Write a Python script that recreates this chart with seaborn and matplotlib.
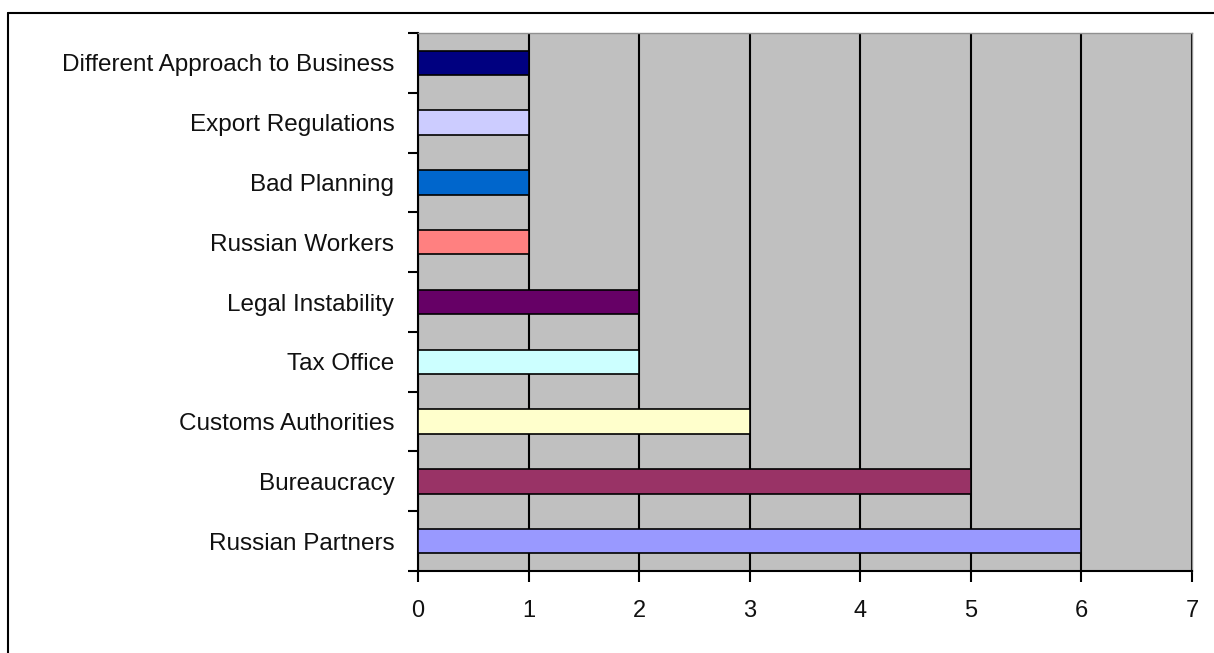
import numpy as np
import pandas as pd
import matplotlib.pyplot as plt
import seaborn as sns
from matplotlib.lines import Line2D

# Data (top to bottom as in the chart)
categories = ['Different Approach to Business', 'Export Regulations', 'Bad Planning',
              'Russian Workers', 'Legal Instability', 'Tax Office',
              'Customs Authorities', 'Bureaucracy', 'Russian Partners']
counts = [1, 1, 1, 1, 2, 2, 3, 5, 6]
bar_colors = ['#000080', '#CCCCFF', '#0066CC', '#FF8080', '#660066',
              '#CCFFFF', '#FFFFCC', '#993366', '#9999FF']
x_ticks = [0, 1, 2, 3, 4, 5, 6, 7]

df = pd.DataFrame({'Problem': categories, 'Count': counts})

sns.set_style('white')
plt.rcParams['font.family'] = ['Liberation Sans', 'DejaVu Sans']

fig = plt.figure(figsize=(12.14, 6.53), dpi=100)
ax = fig.add_axes([418 / 1214, 1 - 571 / 653, (1192 - 418) / 1214, (571 - 33) / 653])
ax.set_facecolor('#C0C0C0')

sns.barplot(data=df, x='Count', y='Problem', hue='Problem', palette=bar_colors,
            order=categories, legend=False, width=0.41, saturation=1,
            edgecolor='black', linewidth=1.2, ax=ax, zorder=3)

ax.set_xlim(0, 7)
ax.set_ylim(len(categories) - 0.5, -0.5)
ax.set_xticks(x_ticks)
ax.set_xlabel('')
ax.set_ylabel('')

# vertical gridlines
ax.xaxis.grid(True, color='black', linewidth=1.5)
ax.yaxis.grid(False)
ax.set_axisbelow(True)

# ticks
ax.set_yticks(np.arange(-0.5, len(categories), 1), minor=True)
ax.tick_params(axis='y', which='major', length=0, pad=17, labelsize=17.5,
               labelcolor='#111111')
ax.tick_params(axis='y', which='minor', length=7, width=1.5, color='black', left=True)
ax.tick_params(axis='x', which='major', length=8, width=1.5, color='black',
               bottom=True, pad=13, labelsize=17, labelcolor='#111111')

for side in ['left', 'bottom']:
    ax.spines[side].set_color('black')
    ax.spines[side].set_linewidth(1.5)
for side in ['top', 'right']:
    ax.spines[side].set_color('#909090')
    ax.spines[side].set_linewidth(1)

# outer frame (only top and left edges visible)
fx = 8 / 1214
fy = 1 - 13 / 653
fig.add_artist(Line2D([fx, 1], [fy, fy], color='black', linewidth=1.5))
fig.add_artist(Line2D([fx, fx], [0, fy], color='black', linewidth=1.5))

fig.savefig('out.png', dpi=100)
